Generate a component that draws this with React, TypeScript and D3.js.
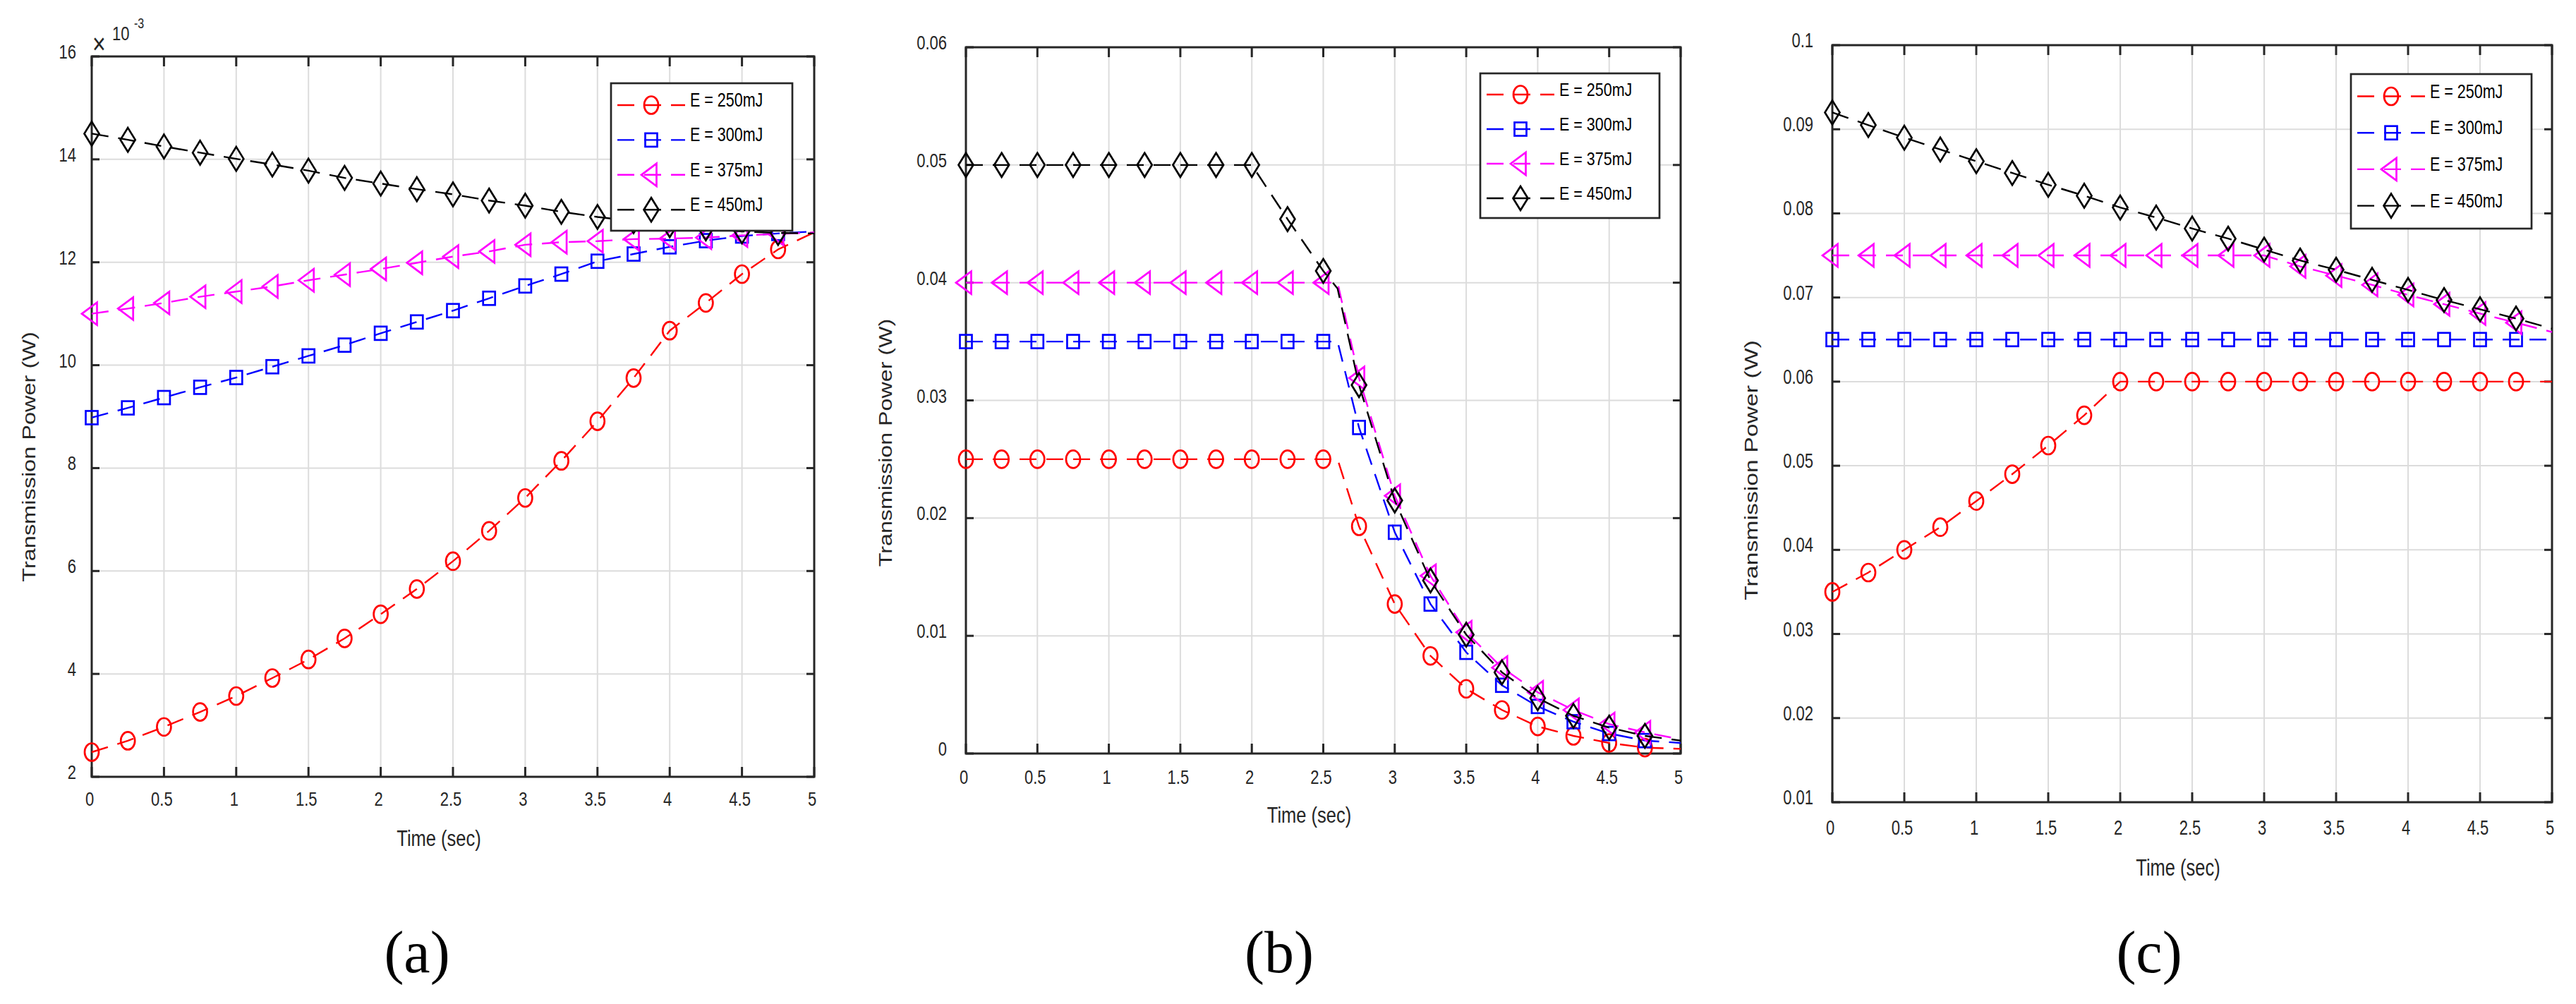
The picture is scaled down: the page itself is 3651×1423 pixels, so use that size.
import React from 'react';
import * as d3 from 'd3';

// ---------- shared categories ----------
const markerTimes = [0, 0.25, 0.5, 0.75, 1, 1.25, 1.5, 1.75, 2, 2.25, 2.5, 2.75, 3, 3.25, 3.5, 3.75, 4, 4.25, 4.5, 4.75];
const endTime = 5;
const xTickValues = [0, 0.5, 1, 1.5, 2, 2.5, 3, 3.5, 4, 4.5, 5];
const legendLabels = ['E = 250mJ', 'E = 300mJ', 'E = 375mJ', 'E = 450mJ'];
const seriesColors = ['#ff0000', '#0000ff', '#ff00ff', '#000000'];
const seriesMarkers = ['circle', 'square', 'triangle', 'diamond'];

// ---------- panel (a): values x10^-3, at markerTimes then at t = 5 ----------
const aRed = [2.48, 2.70, 2.97, 3.26, 3.57, 3.92, 4.28, 4.69, 5.16, 5.65, 6.19, 6.78, 7.42, 8.14, 8.91, 9.75, 10.67, 11.21, 11.77, 12.25, 12.58];
const aBlue = [8.98, 9.17, 9.37, 9.57, 9.76, 9.97, 10.18, 10.39, 10.62, 10.84, 11.06, 11.30, 11.54, 11.77, 12.02, 12.16, 12.30, 12.42, 12.51, 12.56, 12.60];
const aMagenta = [11.0, 11.10, 11.21, 11.33, 11.43, 11.53, 11.65, 11.76, 11.87, 11.99, 12.11, 12.21, 12.34, 12.39, 12.41, 12.45, 12.46, 12.48, 12.52, 12.55, 12.58];
const aBlack = [14.5, 14.38, 14.25, 14.13, 14.01, 13.90, 13.78, 13.64, 13.53, 13.42, 13.32, 13.20, 13.10, 12.98, 12.88, 12.80, 12.72, 12.66, 12.60, 12.57, 12.56];
const aYTicks = [2, 4, 6, 8, 10, 12, 14, 16];

// ---------- panel (b) ----------
const bRed = [0.025, 0.025, 0.025, 0.025, 0.025, 0.025, 0.025, 0.025, 0.025, 0.025, 0.025, 0.0193, 0.0127, 0.0083, 0.0055, 0.0037, 0.0023, 0.0015, 0.0009, 0.0005, 0.0004];
const bBlue = [0.035, 0.035, 0.035, 0.035, 0.035, 0.035, 0.035, 0.035, 0.035, 0.035, 0.035, 0.0277, 0.0188, 0.0127, 0.0086, 0.0058, 0.0040, 0.0027, 0.0017, 0.0011, 0.0009];
const bMagenta = [0.04, 0.04, 0.04, 0.04, 0.04, 0.04, 0.04, 0.04, 0.04, 0.04, 0.04, 0.0319, 0.0219, 0.0151, 0.0103, 0.0073, 0.0052, 0.0037, 0.0025, 0.0018, 0.0012];
const bBlack = [0.05, 0.05, 0.05, 0.05, 0.05, 0.05, 0.05, 0.05, 0.05, 0.0454, 0.0410, 0.0313, 0.0215, 0.0147, 0.0101, 0.0069, 0.0047, 0.0032, 0.0022, 0.0015, 0.0011];
const bKneeTime = 2.6;
const bKneeValues = [0.025, 0.035, 0.04, 0.0395];
const bYTicks = [0, 0.01, 0.02, 0.03, 0.04, 0.05, 0.06];

// ---------- panel (c) ----------
const cRed = [0.035, 0.0373, 0.0400, 0.0427, 0.0458, 0.0490, 0.0524, 0.0560, 0.0600, 0.06, 0.06, 0.06, 0.06, 0.06, 0.06, 0.06, 0.06, 0.06, 0.06, 0.06, 0.06];
const cBlue = [0.065, 0.065, 0.065, 0.065, 0.065, 0.065, 0.065, 0.065, 0.065, 0.065, 0.065, 0.065, 0.065, 0.065, 0.065, 0.065, 0.065, 0.065, 0.065, 0.065, 0.065];
const cMagenta = [0.075, 0.075, 0.075, 0.075, 0.075, 0.075, 0.075, 0.075, 0.075, 0.075, 0.075, 0.075, 0.075, 0.0737, 0.0726, 0.0715, 0.0703, 0.0692, 0.0681, 0.0670, 0.0659];
const cBlack = [0.0920, 0.0905, 0.0890, 0.0876, 0.0862, 0.0848, 0.0834, 0.0821, 0.0807, 0.0795, 0.0782, 0.0770, 0.0757, 0.0744, 0.0733, 0.0721, 0.0709, 0.0697, 0.0686, 0.0675, 0.0663];
const cYTicks = [0.01, 0.02, 0.03, 0.04, 0.05, 0.06, 0.07, 0.08, 0.09, 0.1];

// ---------- layout (positions / styles) ----------
const panels = [
  {
    caption: '(a)', series: [aRed, aBlue, aMagenta, aBlack], knee: null as null | number[],
    yDomain: [2, 16], yTicks: aYTicks, exponent: true,
    l: 130, r: 1154, t: 80, b: 1101, stretch: 1.25,
    yGap: 22, xOff: 41, xLabelOff: 98, yLabelX: 50, yLabelDy: 57,
    legend: { x: 866, y: 118, w: 257, h: 209, row0: 31, step: 49.4 }, capX: 591,
  },
  {
    caption: '(b)', series: [bRed, bBlue, bMagenta, bBlack], knee: bKneeValues,
    yDomain: [0, 0.06], yTicks: bYTicks, exponent: false,
    l: 1369, r: 2382, t: 67, b: 1068, stretch: 1.24,
    yGap: 27, xOff: 43, xLabelOff: 98, yLabelX: 1264, yLabelDy: 60,
    legend: { x: 2098, y: 104, w: 254, h: 205, row0: 30, step: 49 }, capX: 1813,
  },
  {
    caption: '(c)', series: [cRed, cBlue, cMagenta, cBlack], knee: null as null | number[],
    yDomain: [0.01, 0.1], yTicks: cYTicks, exponent: false,
    l: 2597, r: 3617, t: 64, b: 1137, stretch: 1.3,
    yGap: 27, xOff: 46, xLabelOff: 104, yLabelX: 2491, yLabelDy: 66,
    legend: { x: 3332, y: 105, w: 256, h: 219, row0: 31.5, step: 51.7 }, capX: 3046,
  },
];

const AXIS = '#262626';
const GRID = '#dcdcdc';
const FONT = '"Liberation Sans", Arial, Helvetica, sans-serif';
const DASH = '24 14';

function Marker({ kind, x, y, color }: { kind: string; x: number; y: number; color: string }) {
  const common = { fill: 'none', stroke: color, strokeWidth: 2.7 };
  if (kind === 'circle') return <ellipse cx={x} cy={y} rx={10} ry={12.5} {...common} />;
  if (kind === 'square') return <rect x={x - 8.5} y={y - 9.5} width={17} height={19} {...common} />;
  if (kind === 'triangle')
    return <polygon points={`${x - 14},${y} ${x + 7.5},${y - 16} ${x + 7.5},${y + 16}`} {...common} strokeLinejoin="miter" />;
  return <polygon points={`${x},${y - 17} ${x + 10.5},${y} ${x},${y + 17} ${x - 10.5},${y}`} {...common} />;
}

function SText({ x, y, size, anchor = 'start', stretch, children, fill = AXIS }: any) {
  return (
    <text transform={`translate(${x},${y}) scale(1,${stretch})`} fontSize={size} textAnchor={anchor}
      fill={fill} fontFamily={FONT}>{children}</text>
  );
}

function Panel({ p }: { p: (typeof panels)[number] }) {
  const x = d3.scaleLinear().domain([0, endTime]).range([p.l, p.r]);
  const y = d3.scaleLinear().domain(p.yDomain).range([p.b, p.t]);
  const line = d3.line<[number, number]>().x(d => x(d[0])).y(d => y(d[1]));
  const midX = (p.l + p.r) / 2;
  const midY = (p.t + p.b) / 2;
  const st = p.stretch;

  const seriesPoints = p.series.map((vals, si) => {
    const pts: [number, number][] = markerTimes.map((t, i) => [t, vals[i]] as [number, number]);
    if (p.knee) pts.push([bKneeTime, p.knee[si]]);
    pts.push([endTime, vals[markerTimes.length]]);
    pts.sort((a, b) => a[0] - b[0]);
    return pts;
  });

  const lg = p.legend;
  return (
    <g>
      {/* grid */}
      {xTickValues.map(t => (
        <line key={'gx' + t} x1={x(t)} x2={x(t)} y1={p.t} y2={p.b} stroke={GRID} strokeWidth={2} />
      ))}
      {p.yTicks.map(t => (
        <line key={'gy' + t} x1={p.l} x2={p.r} y1={y(t)} y2={y(t)} stroke={GRID} strokeWidth={2} />
      ))}
      {/* ticks */}
      {xTickValues.map(t => (
        <g key={'tx' + t}>
          <line x1={x(t)} x2={x(t)} y1={p.b} y2={p.b - 14} stroke={AXIS} strokeWidth={3} />
          <line x1={x(t)} x2={x(t)} y1={p.t} y2={p.t + 14} stroke={AXIS} strokeWidth={3} />
          <SText x={x(t) - 3} y={p.b + p.xOff} size={22} anchor="middle" stretch={st}>{String(t)}</SText>
        </g>
      ))}
      {p.yTicks.map(t => (
        <g key={'ty' + t}>
          <line x1={p.l} x2={p.l + 11} y1={y(t)} y2={y(t)} stroke={AXIS} strokeWidth={3} />
          <line x1={p.r} x2={p.r - 11} y1={y(t)} y2={y(t)} stroke={AXIS} strokeWidth={3} />
          <SText x={p.l - p.yGap} y={y(t) + 3} size={22} anchor="end" stretch={st}>{String(t)}</SText>
        </g>
      ))}
      {/* box */}
      <rect x={p.l} y={p.t} width={p.r - p.l} height={p.b - p.t} fill="none" stroke={AXIS} strokeWidth={3} />
      {p.exponent && (
        <g>
          <SText x={131} y={76} size={32} stretch={st}>×</SText>
          <SText x={159} y={57} size={22} stretch={st}>10</SText>
          <SText x={190} y={40} size={16} stretch={st}>-3</SText>
        </g>
      )}
      {/* series */}
      {seriesPoints.map((pts, si) => (
        <g key={'s' + si}>
          <path d={line(pts) || ''} fill="none" stroke={seriesColors[si]} strokeWidth={2.4} strokeDasharray={DASH} />
          {markerTimes.map((t, i) => (
            <Marker key={i} kind={seriesMarkers[si]} x={x(t)} y={y(p.series[si][i])} color={seriesColors[si]} />
          ))}
        </g>
      ))}
      {/* labels */}
      <SText x={midX - 20} y={p.b + p.xLabelOff} size={25.5} anchor="middle" stretch={st}>Time (sec)</SText>
      <text transform={`translate(${p.yLabelX},${midY + p.yLabelDy}) rotate(-90) scale(${st},1)`} fontSize={26}
        textAnchor="middle" fill={AXIS} fontFamily={FONT}>Transmission Power (W)</text>
      {/* legend */}
      <rect x={lg.x} y={lg.y} width={lg.w} height={lg.h} fill="#ffffff" stroke={AXIS} strokeWidth={2.7} />
      {legendLabels.map((lab, i) => {
        const ry = lg.y + lg.row0 + i * lg.step;
        return (
          <g key={'lg' + i}>
            <line x1={lg.x + 9} x2={lg.x + 105} y1={ry} y2={ry} stroke={seriesColors[i]} strokeWidth={2.4} strokeDasharray={DASH} />
            <Marker kind={seriesMarkers[i]} x={lg.x + 57} y={ry} color={seriesColors[i]} />
            <SText x={lg.x + 112} y={ry + 2} size={21.5} stretch={st} fill="#000">{lab}</SText>
          </g>
        );
      })}
      {/* caption */}
      <text x={p.capX} y={1378} fontSize={84} textAnchor="middle" fontFamily='"Liberation Serif", "Times New Roman", serif' fill="#000">{p.caption}</text>
    </g>
  );
}

export default function App() {
  return (
    <svg width={3651} height={1423} viewBox="0 0 3651 1423"
      style={{ position: 'absolute', left: 0, top: 0, background: '#ffffff' }}>
      <rect x={0} y={0} width={3651} height={1423} fill="#ffffff" />
      {panels.map(p => <Panel key={p.caption} p={p} />)}
    </svg>
  );
}
